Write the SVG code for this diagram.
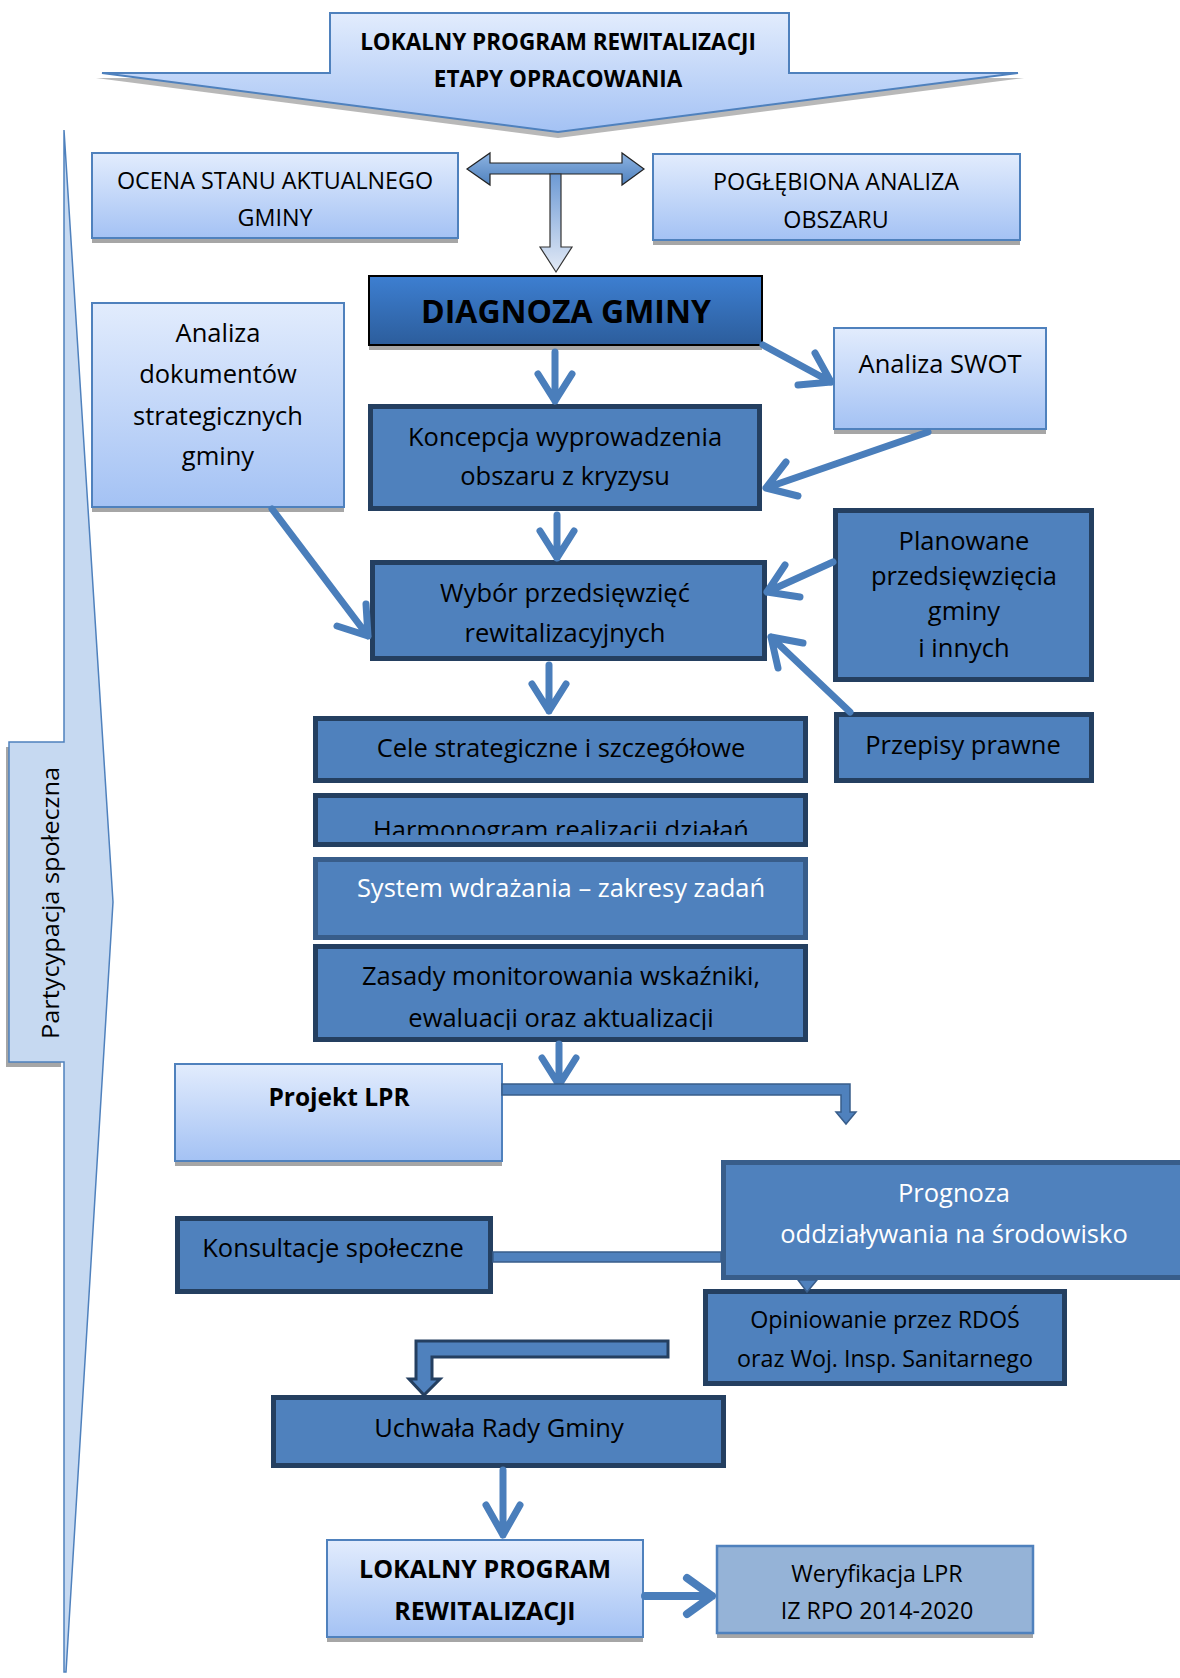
<svg xmlns="http://www.w3.org/2000/svg" width="1180" height="1678" viewBox="0 0 1180 1678">
<defs>
<linearGradient id="lg" x1="0" y1="0" x2="0" y2="1"><stop offset="0" stop-color="#e2ecfd"/><stop offset="1" stop-color="#a4c2f4"/></linearGradient>
<linearGradient id="dg" x1="0" y1="0" x2="0" y2="1"><stop offset="0" stop-color="#3d7fd1"/><stop offset="1" stop-color="#2c5d9c"/></linearGradient>
<linearGradient id="hg" x1="0" y1="0" x2="0" y2="1"><stop offset="0" stop-color="#8db3e2"/><stop offset="1" stop-color="#4f81bd"/></linearGradient>
<linearGradient id="vg" x1="0" y1="0" x2="0" y2="1"><stop offset="0" stop-color="#6d9ad4"/><stop offset="1" stop-color="#e3eaf6"/></linearGradient>
<clipPath id="clipH"><rect x="313" y="793" width="495" height="42"/></clipPath>
<clipPath id="clipZ"><rect x="313" y="944" width="495" height="86"/></clipPath>
<style>
text{font-family:"Open Sans","Liberation Sans",sans-serif;font-size:25.5px;fill:#000;text-anchor:middle}
.light{fill:url(#lg);stroke:#4f81bd;stroke-width:2}
.shadow{fill:#a6a6a6}
.dark{fill:#4f81bd;stroke:#243f60;stroke-width:5}
.mid{fill:#4f81bd;stroke:#385d8a;stroke-width:5}
.b{font-weight:bold;font-size:24.5px}
.w{fill:#fff}
.s22{font-size:23.3px}
.arr{fill:none;stroke:#4a7ebb;stroke-width:7;stroke-linecap:round;stroke-linejoin:round}
.blk{fill:#4f81bd;stroke:#385d8a;stroke-width:1.5}
</style>
</defs>
<rect width="1180" height="1678" fill="#fff"/>

<g id="title">
<polygon class="shadow" points="330,18 789,18 789,78 1024,78 558,138 96,78 330,78" opacity="0.8"/>
<polygon points="330,13 789,13 789,73 1018,73 558,132 102,73 330,73" fill="url(#lg)" stroke="#4f81bd" stroke-width="2"/>
<text class="b" x="558" y="50" style="font-size:22.5px">LOKALNY PROGRAM REWITALIZACJI</text>
<text class="b" x="558" y="87" style="font-size:22.5px">ETAPY OPRACOWANIA</text>
</g>

<g id="partycypacja">
<polygon class="shadow" points="6,747 6,1067 61,1067 61,747"/>
<polygon points="64,130 113,902 66,1672 64,1672 64,1062 9,1062 9,742 64,742" fill="#c6d9f1" stroke="#4f81bd" stroke-width="1.5"/>
<text transform="translate(59,903) rotate(-90)" x="0" y="0" style="font-size:24px" textLength="272" lengthAdjust="spacingAndGlyphs">Partycypacja społeczna</text>
</g>

<g id="ocena">
<rect class="shadow" x="92" y="158" width="366" height="85"/>
<rect class="light" x="92" y="153" width="366" height="85"/>
<text class="s22" x="275" y="189">OCENA STANU AKTUALNEGO</text>
<text class="s22" x="275" y="226">GMINY</text>
</g>

<g id="poglebiona">
<rect class="shadow" x="653" y="159" width="367" height="86"/>
<rect class="light" x="653" y="154" width="367" height="86"/>
<text class="s22" x="836" y="190">POGŁĘBIONA ANALIZA</text>
<text class="s22" x="836" y="228">OBSZARU</text>
</g>

<g id="diagnoza">
<rect class="shadow" x="369" y="280" width="393" height="70"/>
<rect x="369" y="276" width="393" height="69" fill="url(#dg)" stroke="#000" stroke-width="2"/>
<text class="b" x="566" y="323" style="font-size:32px">DIAGNOZA GMINY</text>
</g>

<g id="analiza-dok">
<rect class="shadow" x="92" y="308" width="252" height="204"/>
<rect class="light" x="92" y="303" width="252" height="204"/>
<text x="218" y="342">Analiza</text>
<text x="218" y="383">dokumentów</text>
<text x="218" y="425">strategicznych</text>
<text x="218" y="465">gminy</text>
</g>

<g id="swot">
<rect class="shadow" x="834" y="333" width="212" height="101"/>
<rect class="light" x="834" y="328" width="212" height="101"/>
<text x="940" y="373">Analiza SWOT</text>
</g>

<g id="koncepcja">
<rect class="dark" x="370.5" y="406.5" width="389" height="102"/>
<text x="565" y="446">Koncepcja wyprowadzenia</text>
<text x="565" y="485">obszaru z kryzysu</text>
</g>

<g id="wybor">
<rect class="dark" x="372.5" y="562.5" width="392" height="96"/>
<text x="565" y="602">Wybór przedsięwzięć</text>
<text x="565" y="642">rewitalizacyjnych</text>
</g>

<g id="planowane">
<rect class="dark" x="835.5" y="510.5" width="256" height="169"/>
<text x="964" y="550">Planowane</text>
<text x="964" y="585">przedsięwzięcia</text>
<text x="964" y="620">gminy</text>
<text x="964" y="657">i innych</text>
</g>

<g id="cele">
<rect class="dark" x="315.5" y="718.5" width="490" height="62"/>
<text x="561" y="757">Cele strategiczne i szczegółowe</text>
</g>

<g id="przepisy">
<rect class="dark" x="836.5" y="714.5" width="255" height="66"/>
<text x="963" y="754">Przepisy prawne</text>
</g>

<g id="harmonogram">
<rect class="dark" x="315.5" y="795.5" width="490" height="49"/>
<text x="561" y="839" clip-path="url(#clipH)">Harmonogram realizacji działań</text>
</g>

<g id="system">
<rect class="mid" x="315.5" y="859.5" width="490" height="78"/>
<text class="w" x="561" y="897">System wdrażania – zakresy zadań</text>
</g>

<g id="zasady">
<rect class="dark" x="315.5" y="946.5" width="490" height="93"/>
<text x="561" y="985">Zasady monitorowania wskaźniki,</text>
<text x="561" y="1027" clip-path="url(#clipZ)">ewaluacji oraz aktualizacji</text>
</g>

<g id="projekt">
<rect class="shadow" x="175" y="1069" width="327" height="97"/>
<rect class="light" x="175" y="1064" width="327" height="97"/>
<text class="b" x="339" y="1106">Projekt LPR</text>
</g>

<g id="prognoza">
<rect class="mid" x="723.5" y="1162.5" width="470" height="115"/>
<text class="w" x="954" y="1202">Prognoza</text>
<text class="w" x="954" y="1243">oddziaływania na środowisko</text>
</g>

<g id="konsultacje">
<rect class="dark" x="177.5" y="1218.5" width="313" height="73"/>
<text x="333" y="1257">Konsultacje społeczne</text>
</g>

<g id="opiniowanie">
<rect class="dark" x="705.5" y="1291.5" width="359" height="92"/>
<text class="s22" x="885" y="1328">Opiniowanie przez RDOŚ</text>
<text class="s22" x="885" y="1367">oraz Woj. Insp. Sanitarnego</text>
</g>

<g id="uchwala">
<rect class="dark" x="273.5" y="1397.5" width="450" height="68"/>
<text x="499" y="1437">Uchwała Rady Gminy</text>
</g>

<g id="lpr">
<rect class="shadow" x="327" y="1545" width="316" height="97"/>
<rect class="light" x="327" y="1540" width="316" height="97"/>
<text class="b" x="485" y="1578" style="font-size:25px">LOKALNY PROGRAM</text>
<text class="b" x="485" y="1620" style="font-size:25px">REWITALIZACJI</text>
</g>

<g id="weryfikacja">
<rect class="shadow" x="717" y="1551" width="316" height="87"/>
<rect x="717" y="1546" width="316" height="87" fill="#95b3d7" stroke="#4f81bd" stroke-width="2.5"/>
<text class="s22" x="877" y="1582">Weryfikacja LPR</text>
<text class="s22" x="877" y="1619">IZ RPO 2014-2020</text>
</g>

<g id="connectors">
<polygon points="467,169 490,153 490,163 622,163 622,153 644,169 622,185 622,174 490,174 490,185" fill="url(#hg)" stroke="#222" stroke-width="1.2"/>
<polygon points="550,174 561,174 561,247 572,247 556,272 540,247 550,247" fill="url(#vg)" stroke="#333" stroke-width="1.2"/>
<path class="arr" d="M555,352 V401 M538,374 L555,401 L572,374"/>
<path class="arr" d="M763,345 L831,382 M815,353 L831,382 L798,385"/>
<path class="arr" d="M928,432 L766,488 M786,462 L766,488 L798,496"/>
<path class="arr" d="M557,515 V558 M540,531 L557,558 L574,531"/>
<path class="arr" d="M272,509 L368,636 M366,604 L368,636 L337,626"/>
<path class="arr" d="M833,562 L767,592 M785,565 L767,592 L800,597"/>
<path class="arr" d="M850,712 L771,637 M778,668 L771,637 L803,643"/>
<path class="arr" d="M549,665 V711 M532,684 L549,711 L566,684"/>
<path class="arr" d="M559,1044 V1085 M542,1058 L559,1085 L576,1058"/>
<path class="blk" d="M502,1084 H850 V1112 H856 L846,1124 L836,1112 H841 V1095 H502 Z"/>
<rect class="blk" x="493" y="1252" width="228" height="10"/>
<polygon class="blk" points="798,1280 817,1280 807,1292"/>
<path d="M668,1341 H416 V1379 H409 L424,1395 L440,1379 H432 V1357 H668 Z" fill="#4f81bd" stroke="#243f60" stroke-width="3"/>
<path class="arr" d="M503,1470 V1535 M486,1505 L503,1535 L520,1505"/>
<path class="arr" style="stroke-width:8" d="M645,1596 H712 M687,1578 L712,1596 L687,1614"/>
</g>
</svg>
